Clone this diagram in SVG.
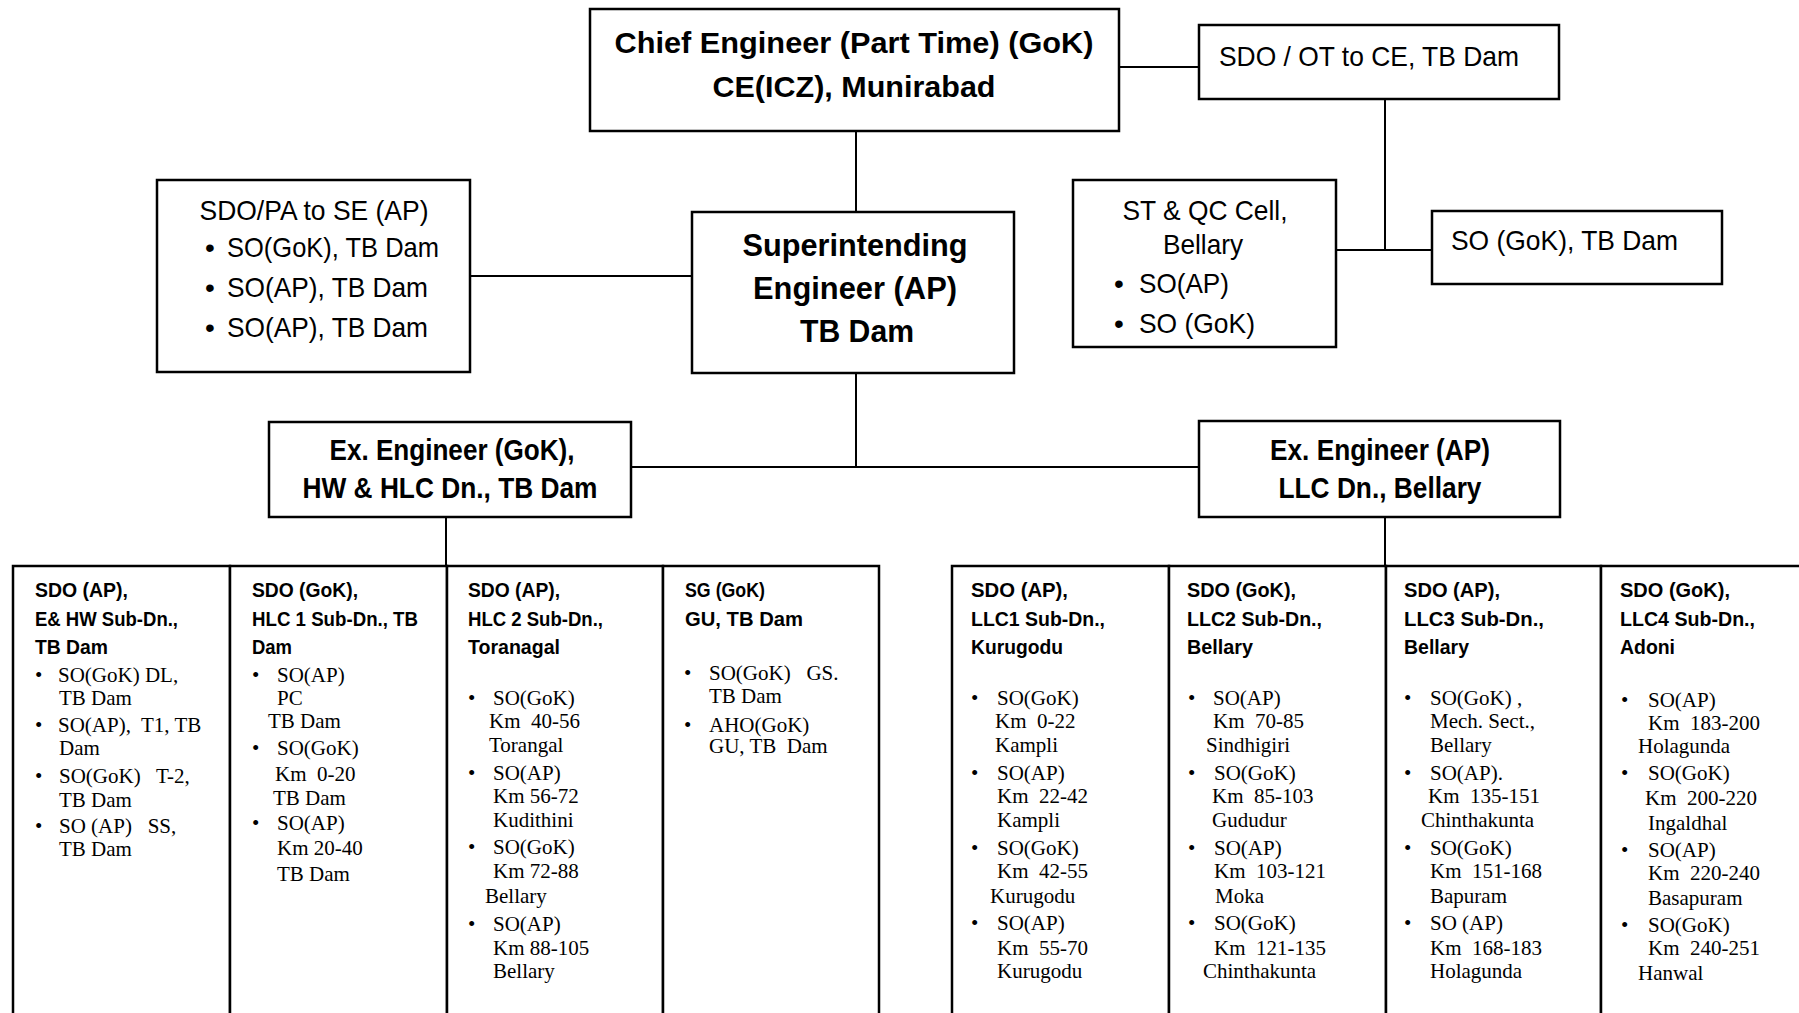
<svg xmlns="http://www.w3.org/2000/svg" width="1799" height="1013" viewBox="0 0 1799 1013">
<style>
.bx{fill:#fff;stroke:#000;stroke-width:2.5}
.cn{stroke:#000;stroke-width:2;fill:none}
.b{font-family:"Liberation Sans",Arial,sans-serif;font-weight:bold;fill:#000}
.r{font-family:"Liberation Sans",Arial,sans-serif;fill:#000}
.t29{font-size:30px}
.t31{font-size:32px}
.t27{font-size:28px}
.h{font-family:"Liberation Sans",Arial,sans-serif;font-weight:bold;font-size:21px;fill:#000}
.s{font-family:"Liberation Serif","Times New Roman",serif;font-size:21px;fill:#000;white-space:pre}
.m{text-anchor:middle}
</style>
<rect width="1799" height="1013" fill="#fff"/>
<g id="connectors">
<line class="cn" x1="1119" y1="67" x2="1199" y2="67"/>
<line class="cn" x1="856" y1="131" x2="856" y2="212"/>
<line class="cn" x1="1385" y1="99" x2="1385" y2="250"/>
<line class="cn" x1="1336" y1="250" x2="1432" y2="250"/>
<line class="cn" x1="470" y1="276" x2="692" y2="276"/>
<line class="cn" x1="856" y1="373" x2="856" y2="467"/>
<line class="cn" x1="631" y1="467" x2="1199" y2="467"/>
<line class="cn" x1="446" y1="517" x2="446" y2="566"/>
<line class="cn" x1="1385" y1="517" x2="1385" y2="566"/>
</g>
<g id="ce">
<rect class="bx" x="590" y="9" width="529" height="122"/>
<text class="b t29 m" x="854" y="53" textLength="479" lengthAdjust="spacingAndGlyphs">Chief Engineer (Part Time) (GoK)</text>
<text class="b t29 m" x="854" y="97" textLength="283" lengthAdjust="spacingAndGlyphs">CE(ICZ), Munirabad</text>
</g>
<g id="sdo-ot">
<rect class="bx" x="1199" y="25" width="360" height="74"/>
<text class="r t27" x="1219" y="66" textLength="300" lengthAdjust="spacingAndGlyphs">SDO / OT to CE, TB Dam</text>
</g>
<g id="sdo-pa">
<rect class="bx" x="157" y="180" width="313" height="192"/>
<text class="r t27 m" x="314" y="220" textLength="229" lengthAdjust="spacingAndGlyphs">SDO/PA to SE (AP)</text>
<text class="r t27" x="205" y="257">•</text>
<text class="r t27" x="227" y="257" textLength="212" lengthAdjust="spacingAndGlyphs">SO(GoK), TB Dam</text>
<text class="r t27" x="205" y="297">•</text>
<text class="r t27" x="227" y="297" textLength="201" lengthAdjust="spacingAndGlyphs">SO(AP), TB Dam</text>
<text class="r t27" x="205" y="337">•</text>
<text class="r t27" x="227" y="337" textLength="201" lengthAdjust="spacingAndGlyphs">SO(AP), TB Dam</text>
</g>
<g id="se">
<rect class="bx" x="692" y="212" width="322" height="161"/>
<text class="b t31 m" x="855" y="256" textLength="225" lengthAdjust="spacingAndGlyphs">Superintending</text>
<text class="b t31 m" x="855" y="299" textLength="204" lengthAdjust="spacingAndGlyphs">Engineer (AP)</text>
<text class="b t31 m" x="857" y="342" textLength="114" lengthAdjust="spacingAndGlyphs">TB Dam</text>
</g>
<g id="stqc">
<rect class="bx" x="1073" y="180" width="263" height="167"/>
<text class="r t27 m" x="1205" y="220" textLength="165" lengthAdjust="spacingAndGlyphs">ST &amp; QC Cell,</text>
<text class="r t27 m" x="1203" y="254" textLength="80" lengthAdjust="spacingAndGlyphs">Bellary</text>
<text class="r t27" x="1114" y="293">•</text>
<text class="r t27" x="1139" y="293" textLength="90" lengthAdjust="spacingAndGlyphs">SO(AP)</text>
<text class="r t27" x="1114" y="333">•</text>
<text class="r t27" x="1139" y="333" textLength="116" lengthAdjust="spacingAndGlyphs">SO (GoK)</text>
</g>
<g id="so-tb">
<rect class="bx" x="1432" y="211" width="290" height="73"/>
<text class="r t27" x="1451" y="250" textLength="227" lengthAdjust="spacingAndGlyphs">SO (GoK), TB Dam</text>
</g>
<g id="ee-gok">
<rect class="bx" x="269" y="422" width="362" height="95"/>
<text class="b t29 m" x="452" y="460" textLength="245" lengthAdjust="spacingAndGlyphs">Ex. Engineer (GoK),</text>
<text class="b t29 m" x="450" y="498" textLength="295" lengthAdjust="spacingAndGlyphs">HW &amp; HLC Dn., TB Dam</text>
</g>
<g id="ee-ap">
<rect class="bx" x="1199" y="421" width="361" height="96"/>
<text class="b t29 m" x="1380" y="460" textLength="220" lengthAdjust="spacingAndGlyphs">Ex. Engineer (AP)</text>
<text class="b t29 m" x="1380" y="498" textLength="203" lengthAdjust="spacingAndGlyphs">LLC Dn., Bellary</text>
</g>
<g id="sd-ehw">
<rect class="bx" x="13" y="566" width="217" height="470"/>
<text class="h" x="35" y="597" textLength="93" lengthAdjust="spacingAndGlyphs">SDO (AP),</text>
<text class="h" x="35" y="626" textLength="143" lengthAdjust="spacingAndGlyphs">E&amp; HW Sub-Dn.,</text>
<text class="h" x="35" y="654" textLength="73" lengthAdjust="spacingAndGlyphs">TB Dam</text>
<text class="s" x="35" y="682">•</text><text class="s" x="58" y="682">SO(GoK) DL,</text>
<text class="s" x="59" y="705">TB Dam</text>
<text class="s" x="35" y="732">•</text><text class="s" x="58" y="732">SO(AP),  T1, TB</text>
<text class="s" x="59" y="755">Dam</text>
<text class="s" x="35" y="783">•</text><text class="s" x="59" y="783">SO(GoK)   T-2,</text>
<text class="s" x="59" y="807">TB Dam</text>
<text class="s" x="35" y="833">•</text><text class="s" x="59" y="833">SO (AP)   SS,</text>
<text class="s" x="59" y="856">TB Dam</text>
</g>
<g id="sd-hlc1">
<rect class="bx" x="230" y="566" width="217" height="470"/>
<text class="h" x="252" y="597" textLength="106" lengthAdjust="spacingAndGlyphs">SDO (GoK),</text>
<text class="h" x="252" y="626" textLength="166" lengthAdjust="spacingAndGlyphs">HLC 1 Sub-Dn., TB</text>
<text class="h" x="252" y="654" textLength="40" lengthAdjust="spacingAndGlyphs">Dam</text>
<text class="s" x="252" y="682">•</text><text class="s" x="277" y="682">SO(AP)</text>
<text class="s" x="277" y="705">PC</text>
<text class="s" x="268" y="728">TB Dam</text>
<text class="s" x="252" y="755">•</text><text class="s" x="277" y="755">SO(GoK)</text>
<text class="s" x="275" y="781">Km  0-20</text>
<text class="s" x="273" y="805">TB Dam</text>
<text class="s" x="252" y="830">•</text><text class="s" x="277" y="830">SO(AP)</text>
<text class="s" x="277" y="855">Km 20-40</text>
<text class="s" x="277" y="881">TB Dam</text>
</g>
<g id="sd-hlc2">
<rect class="bx" x="447" y="566" width="216" height="470"/>
<text class="h" x="468" y="597" textLength="92" lengthAdjust="spacingAndGlyphs">SDO (AP),</text>
<text class="h" x="468" y="626" textLength="135" lengthAdjust="spacingAndGlyphs">HLC 2 Sub-Dn.,</text>
<text class="h" x="468" y="654" textLength="92" lengthAdjust="spacingAndGlyphs">Toranagal</text>
<text class="s" x="468" y="705">•</text><text class="s" x="493" y="705">SO(GoK)</text>
<text class="s" x="489" y="728">Km  40-56</text>
<text class="s" x="489" y="752">Torangal</text>
<text class="s" x="468" y="780">•</text><text class="s" x="493" y="780">SO(AP)</text>
<text class="s" x="493" y="803">Km 56-72</text>
<text class="s" x="493" y="827">Kudithini</text>
<text class="s" x="468" y="854">•</text><text class="s" x="493" y="854">SO(GoK)</text>
<text class="s" x="493" y="878">Km 72-88</text>
<text class="s" x="485" y="903">Bellary</text>
<text class="s" x="468" y="931">•</text><text class="s" x="493" y="931">SO(AP)</text>
<text class="s" x="493" y="955">Km 88-105</text>
<text class="s" x="493" y="978">Bellary</text>
</g>
<g id="sg-gu">
<rect class="bx" x="663" y="566" width="216" height="470"/>
<text class="h" x="685" y="597" textLength="80" lengthAdjust="spacingAndGlyphs">SG (GoK)</text>
<text class="h" x="685" y="626" textLength="118" lengthAdjust="spacingAndGlyphs">GU,  TB Dam</text>
<text class="s" x="684" y="680">•</text><text class="s" x="709" y="680">SO(GoK)   GS.</text>
<text class="s" x="709" y="703">TB Dam</text>
<text class="s" x="684" y="732">•</text><text class="s" x="709" y="732">AHO(GoK)</text>
<text class="s" x="709" y="753">GU, TB  Dam</text>
</g>
<g id="sd-llc1">
<rect class="bx" x="952" y="566" width="217" height="470"/>
<text class="h" x="971" y="597" textLength="97" lengthAdjust="spacingAndGlyphs">SDO (AP),</text>
<text class="h" x="971" y="626" textLength="134" lengthAdjust="spacingAndGlyphs">LLC1 Sub-Dn.,</text>
<text class="h" x="971" y="654" textLength="92" lengthAdjust="spacingAndGlyphs">Kurugodu</text>
<text class="s" x="971" y="705">•</text><text class="s" x="997" y="705">SO(GoK)</text>
<text class="s" x="995" y="728">Km  0-22</text>
<text class="s" x="995" y="752">Kampli</text>
<text class="s" x="971" y="780">•</text><text class="s" x="997" y="780">SO(AP)</text>
<text class="s" x="997" y="803">Km  22-42</text>
<text class="s" x="997" y="827">Kampli</text>
<text class="s" x="971" y="855">•</text><text class="s" x="997" y="855">SO(GoK)</text>
<text class="s" x="997" y="878">Km  42-55</text>
<text class="s" x="990" y="903">Kurugodu</text>
<text class="s" x="971" y="930">•</text><text class="s" x="997" y="930">SO(AP)</text>
<text class="s" x="997" y="955">Km  55-70</text>
<text class="s" x="997" y="978">Kurugodu</text>
</g>
<g id="sd-llc2">
<rect class="bx" x="1169" y="566" width="217" height="470"/>
<text class="h" x="1187" y="597" textLength="109" lengthAdjust="spacingAndGlyphs">SDO (GoK),</text>
<text class="h" x="1187" y="626" textLength="135" lengthAdjust="spacingAndGlyphs">LLC2 Sub-Dn.,</text>
<text class="h" x="1187" y="654" textLength="66" lengthAdjust="spacingAndGlyphs">Bellary</text>
<text class="s" x="1188" y="705">•</text><text class="s" x="1213" y="705">SO(AP)</text>
<text class="s" x="1213" y="728">Km  70-85</text>
<text class="s" x="1206" y="752">Sindhigiri</text>
<text class="s" x="1188" y="780">•</text><text class="s" x="1214" y="780">SO(GoK)</text>
<text class="s" x="1212" y="803">Km  85-103</text>
<text class="s" x="1212" y="827">Gududur</text>
<text class="s" x="1188" y="855">•</text><text class="s" x="1214" y="855">SO(AP)</text>
<text class="s" x="1214" y="878">Km  103-121</text>
<text class="s" x="1215" y="903">Moka</text>
<text class="s" x="1188" y="930">•</text><text class="s" x="1214" y="930">SO(GoK)</text>
<text class="s" x="1214" y="955">Km  121-135</text>
<text class="s" x="1203" y="978">Chinthakunta</text>
</g>
<g id="sd-llc3">
<rect class="bx" x="1386" y="566" width="215" height="470"/>
<text class="h" x="1404" y="597" textLength="96" lengthAdjust="spacingAndGlyphs">SDO (AP),</text>
<text class="h" x="1404" y="626" textLength="140" lengthAdjust="spacingAndGlyphs">LLC3  Sub-Dn.,</text>
<text class="h" x="1404" y="654" textLength="65" lengthAdjust="spacingAndGlyphs">Bellary</text>
<text class="s" x="1404" y="705">•</text><text class="s" x="1430" y="705">SO(GoK) ,</text>
<text class="s" x="1430" y="728">Mech. Sect.,</text>
<text class="s" x="1430" y="752">Bellary</text>
<text class="s" x="1404" y="780">•</text><text class="s" x="1430" y="780">SO(AP).</text>
<text class="s" x="1428" y="803">Km  135-151</text>
<text class="s" x="1421" y="827">Chinthakunta</text>
<text class="s" x="1404" y="855">•</text><text class="s" x="1430" y="855">SO(GoK)</text>
<text class="s" x="1430" y="878">Km  151-168</text>
<text class="s" x="1430" y="903">Bapuram</text>
<text class="s" x="1404" y="930">•</text><text class="s" x="1430" y="930">SO (AP)</text>
<text class="s" x="1430" y="955">Km  168-183</text>
<text class="s" x="1430" y="978">Holagunda</text>
</g>
<g id="sd-llc4">
<rect class="bx" x="1601" y="566" width="230" height="470"/>
<text class="h" x="1620" y="597" textLength="110" lengthAdjust="spacingAndGlyphs">SDO (GoK),</text>
<text class="h" x="1620" y="626" textLength="135" lengthAdjust="spacingAndGlyphs">LLC4 Sub-Dn.,</text>
<text class="h" x="1620" y="654" textLength="55" lengthAdjust="spacingAndGlyphs">Adoni</text>
<text class="s" x="1621" y="707">•</text><text class="s" x="1648" y="707">SO(AP)</text>
<text class="s" x="1648" y="730">Km  183-200</text>
<text class="s" x="1638" y="753">Holagunda</text>
<text class="s" x="1621" y="780">•</text><text class="s" x="1648" y="780">SO(GoK)</text>
<text class="s" x="1645" y="805">Km  200-220</text>
<text class="s" x="1648" y="830">Ingaldhal</text>
<text class="s" x="1621" y="857">•</text><text class="s" x="1648" y="857">SO(AP)</text>
<text class="s" x="1648" y="880">Km  220-240</text>
<text class="s" x="1648" y="905">Basapuram</text>
<text class="s" x="1621" y="932">•</text><text class="s" x="1648" y="932">SO(GoK)</text>
<text class="s" x="1648" y="955">Km  240-251</text>
<text class="s" x="1638" y="980">Hanwal</text>
</g>
</svg>
